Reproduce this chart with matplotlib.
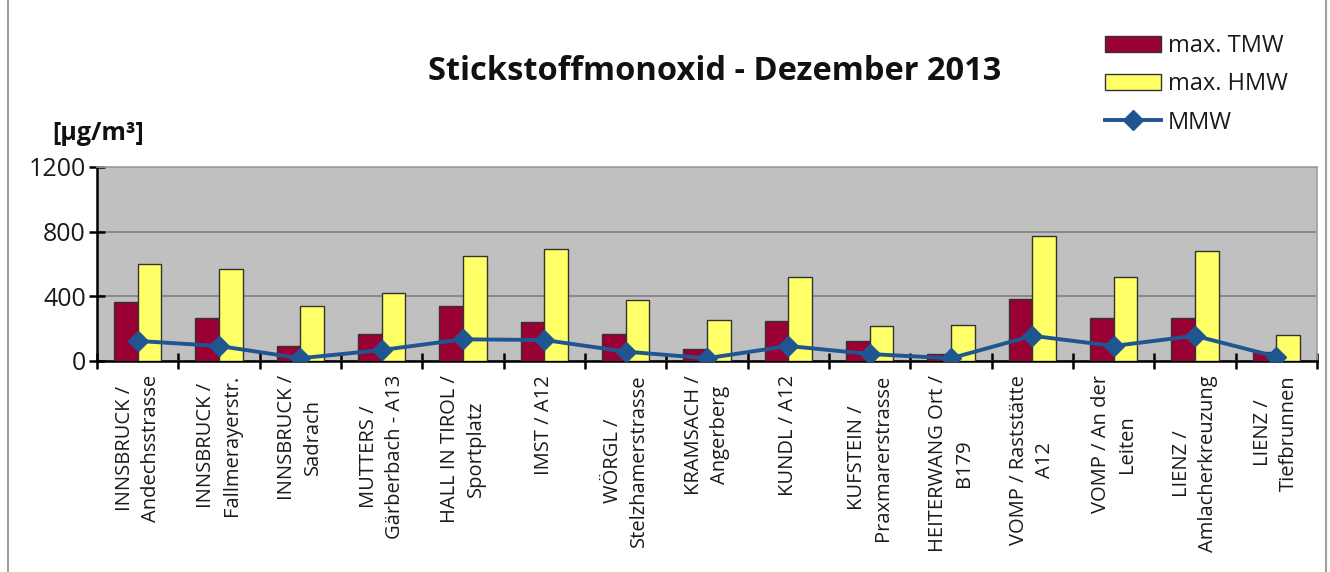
import matplotlib
matplotlib.use("Agg")
import matplotlib.pyplot as plt
from matplotlib.lines import Line2D
import numpy as np

# data
stations = ["INNSBRUCK /\nAndechsstrasse", "INNSBRUCK /\nFallmerayerstr.", "INNSBRUCK /\nSadrach",
            "MUTTERS /\nGärberbach - A13", "HALL IN TIROL /\nSportplatz", "IMST / A12",
            "WÖRGL /\nStelzhamerstrasse", "KRAMSACH /\nAngerberg", "KUNDL / A12",
            "KUFSTEIN /\nPraxmarerstrasse", "HEITERWANG Ort /\nB179", "VOMP / Raststätte\nA12",
            "VOMP / An der\nLeiten", "LIENZ /\nAmlacherkreuzung", "LIENZ /\nTiefbrunnen"]
max_tmw = [363, 268, 91, 167, 342, 239, 167, 76, 245, 122, 43, 385, 268, 268, 56]
max_hmw = [597, 570, 342, 420, 649, 694, 379, 253, 519, 218, 224, 774, 519, 680, 159]
mmw = [124, 93, 17, 68, 134, 130, 58, 17, 93, 43, 17, 156, 93, 156, 27]

plt.rcParams['font.family'] = ['Open Sans', 'DejaVu Sans']

fig = plt.figure(figsize=(13.3, 5.72), dpi=100)
ax = fig.add_axes([97/1330, 1-361/572, 1220/1330, 194/572])
ax.set_facecolor("#C0C0C0")

x = np.arange(len(stations))
w = 0.29
b1 = ax.bar(x - w/2, max_tmw, w, color="#990033", edgecolor="#333333", linewidth=1, zorder=3)
b2 = ax.bar(x + w/2, max_hmw, w, color="#FFFF66", edgecolor="#333333", linewidth=1, zorder=3)
l1, = ax.plot(x, mmw, color="#1F5591", linewidth=2.8, marker="D", markersize=10, zorder=4)

ax.set_xlim(-0.5, len(stations) - 0.5)
ax.set_ylim(0, 1200)
ax.set_yticks([0, 400, 800, 1200])
ax.yaxis.grid(True, color="#808080", linewidth=1.2, zorder=1)
ax.set_axisbelow(True)

# category names on major ticks, tick marks on the boundaries
ax.set_xticks(x)
ax.set_xticklabels(stations, rotation=90, fontsize=14.5, color="#1a1a1a", linespacing=1.4)
ax.set_xticks(np.arange(-0.5, len(stations)), minor=True)
ax.tick_params(axis="x", which="major", length=0, pad=10)
ax.tick_params(axis="x", which="minor", direction="inout", length=12, width=1.8)
ax.tick_params(axis="y", direction="inout", length=12, width=1.8, labelsize=18, pad=2, labelcolor="#1a1a1a")

for s in ["left", "bottom"]:
    ax.spines[s].set_linewidth(1.8)
for s in ["top", "right"]:
    ax.spines[s].set_color("#A0A0A0")
    ax.spines[s].set_linewidth(1.2)

fig.text(715/1330, 1-71/572, "Stickstoffmonoxid - Dezember 2013", ha="center", va="center",
         fontsize=23.5, fontweight="bold", color="#111111")
fig.text(52/1330, 1-134/572, "[µg/m³]", ha="left", va="center", fontsize=18, fontweight="bold", color="#111111")

leg = fig.legend([b1, b2, l1], ["max. TMW", "max. HMW", "MMW"], loc="upper left",
                 bbox_to_anchor=(1084/1330, 1-13/572), frameon=False, fontsize=17,
                 handlelength=2.35, handleheight=0.65, labelspacing=0.6, handletextpad=0.3)
for t in leg.get_texts():
    t.set_color("#1a1a1a")

# outer chart border
fig.add_artist(Line2D([8/1330, 8/1330], [0, 1], color="#A0A0A0", linewidth=1.5))
fig.add_artist(Line2D([1326/1330, 1326/1330], [0, 1], color="#A0A0A0", linewidth=1.5))

plt.savefig("out.png", dpi=100)
